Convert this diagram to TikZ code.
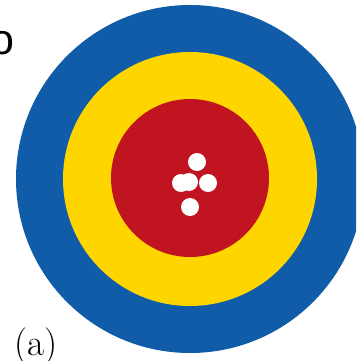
\documentclass[tikz,border=0pt]{standalone}
\usepackage{fontspec}
\newfontfamily\labelsans{Liberation Sans}
\definecolor{ringblue}{RGB}{16,92,168}
\definecolor{ringyellow}{RGB}{255,213,0}
\definecolor{ringred}{RGB}{192,20,32}
\begin{document}
\begin{tikzpicture}[x=1pt, y=-1pt, hit/.style={fill=white}]
                \useasboundingbox (0,0) rectangle (356,361);
                \clip (0,0) rectangle (356,361);

                % Target rings
                \fill[ringblue] (190,179) circle (174);
                \fill[ringyellow] (190,179) circle (127);
                \fill[ringred] (190,178) circle (79);

                % Hits
                \fill[hit] (197,162) circle (9);
                \fill[hit] (181,183) circle (9);
                \fill[hit] (189,182) circle (9);
                \fill[hit] (208,183) circle (9);
                \fill[hit] (190,207) circle (9);

                % Labels
                \node[anchor=base east, inner sep=0] (cut) at (15,55) {\labelsans\fontsize{43}{48}\selectfont o};
                \node[anchor=base west, inner sep=0] (tag) at (14,355) {\fontsize{37}{42}\selectfont (a)};
            \end{tikzpicture}
\end{document}
